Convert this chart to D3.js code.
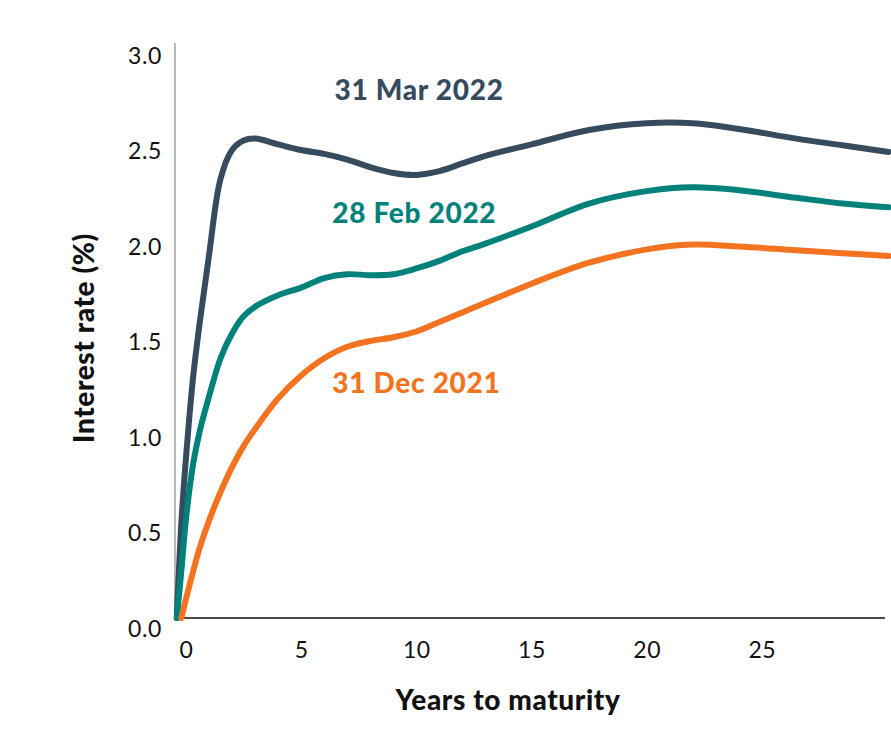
<!DOCTYPE html>
<html>
<head>
<meta charset="utf-8">
<script src="https://cdn.jsdelivr.net/npm/d3@7"></script>
<style>
  body { margin: 0; background: #fff; }
  svg { display: block; font-family: Lato, 'Open Sans', sans-serif; }
</style>
</head>
<body>
<div id="chart"></div>
<script>
// years to maturity
let maturities = [-0.4, -0.2, 0, 0.3, 0.6, 1, 1.5, 2, 2.5, 3, 4, 5, 6, 7, 8, 9, 10,
  11, 12, 13, 15, 17.5, 20, 22, 24, 26.5, 28.5, 30.5]

let mar2022 = [0.0, 0.5, 0.84, 1.25, 1.55, 1.9, 2.3, 2.45, 2.5, 2.51, 2.48, 2.45, 2.43,
  2.4, 2.36, 2.33, 2.32, 2.34, 2.38, 2.42, 2.48, 2.555, 2.59, 2.59, 2.56, 2.51, 2.475, 2.44]

let feb2022 = [0.0, 0.25, 0.52, 0.8, 0.98, 1.16, 1.36, 1.49, 1.58, 1.63, 1.69, 1.73, 1.78,
  1.8, 1.795, 1.8, 1.83, 1.87, 1.92, 1.96, 2.05, 2.17, 2.235, 2.255, 2.24, 2.2, 2.17, 2.15]

let dec2021 = [null, 0.0, 0.1, 0.24, 0.37, 0.51, 0.66, 0.79, 0.9, 0.99, 1.15, 1.27, 1.36,
  1.42, 1.45, 1.47, 1.5, 1.55, 1.6, 1.65, 1.75, 1.86, 1.93, 1.955, 1.945, 1.925, 1.91, 1.895]

let seriesNames = ['31 Mar 2022', '28 Feb 2022', '31 Dec 2021']
let seriesColors = ['#364b5d', '#00827a', '#f37321']

let xTicks = [0, 5, 10, 15, 20, 25]
let yTicks = [0, 0.5, 1, 1.5, 2, 2.5, 3]

// label anchor points (data units)
let labelX = [6.45, 6.35, 6.35]
let labelY = [2.712, 2.068, 1.178]

let width = 891
let height = 744

let svg = d3
  .select('#chart')
  .append('svg')
  .attr('width', width)
  .attr('height', height)

let xPositionScale = d3.scaleLinear().domain([0, 30]).range([186, 877])
let yPositionScale = d3.scaleLinear().domain([0, 3]).range([618, 45])

let xStart = -0.48
let xEnd = 30.35

// axes
let yAxis = d3
  .axisLeft(yPositionScale)
  .tickValues(yTicks)
  .tickFormat(d3.format('.1f'))
  .tickSize(0)
  .tickPadding(13)

svg
  .append('g')
  .attr('class', 'y-axis')
  .attr('transform', `translate(${xPositionScale(xStart)},0)`)
  .call(yAxis)
  .call(g => g.select('.domain').attr('stroke', '#8a8a8a').attr('stroke-width', 1.2)
    .attr('d', `M0,${yPositionScale(3) - 2}V${yPositionScale(0)}`))
  .selectAll('text')
  .attr('dy', 18)
  .attr('font-family', 'Lato, sans-serif')
  .attr('font-size', 23)
  .attr('letter-spacing', 0.6)
  .attr('fill', '#111')

let xAxis = d3
  .axisBottom(xPositionScale)
  .tickValues(xTicks)
  .tickSize(0)

svg
  .append('g')
  .attr('class', 'x-axis')
  .attr('transform', `translate(0,${yPositionScale(0)})`)
  .call(xAxis)
  .call(g => g.select('.domain').remove())
  .selectAll('text')
  .attr('y', 40)
  .attr('dy', 0)
  .attr('font-family', 'Lato, sans-serif')
  .attr('font-size', 23)
  .attr('letter-spacing', 0.6)
  .attr('fill', '#111')

svg
  .append('line')
  .attr('x1', xPositionScale(xStart))
  .attr('x2', xPositionScale(xEnd))
  .attr('y1', yPositionScale(0))
  .attr('y2', yPositionScale(0))
  .attr('stroke', '#111')
  .attr('stroke-width', 1.3)

// axis titles
svg
  .append('text')
  .attr('x', 508)
  .attr('y', 710)
  .attr('text-anchor', 'middle')
  .attr('font-size', 28)
  .attr('font-weight', 900)
  .attr('letter-spacing', 0.6)
  .attr('fill', '#111')
  .text('Years to maturity')

svg
  .append('text')
  .attr('transform', 'translate(94,338) rotate(-90)')
  .attr('text-anchor', 'middle')
  .attr('font-size', 28)
  .attr('font-weight', 900)
  .attr('letter-spacing', 0.6)
  .attr('fill', '#111')
  .text('Interest rate (%)')

// lines
let line = d3
  .line()
  .defined(d => d[1] !== null)
  .x(d => xPositionScale(d[0]))
  .y(d => yPositionScale(d[1]))
  .curve(d3.curveCatmullRom.alpha(0.5))

let allSeries = [mar2022, feb2022, dec2021]

svg
  .append('g')
  .selectAll('.rate-line')
  .data(allSeries)
  .enter()
  .append('path')
  .attr('class', 'rate-line')
  .attr('d', values => line(maturities.map((m, i) => [m, values[i]])))
  .attr('fill', 'none')
  .attr('stroke', (d, i) => seriesColors[i])
  .attr('stroke-width', 6)
  .attr('stroke-linecap', 'round')
  .attr('stroke-linejoin', 'round')

svg
  .append('g')
  .selectAll('.series-label')
  .data(seriesNames)
  .enter()
  .append('text')
  .attr('class', 'series-label')
  .attr('x', (d, i) => xPositionScale(labelX[i]))
  .attr('y', (d, i) => yPositionScale(labelY[i]))
  .attr('font-size', 28)
  .attr('font-weight', 900)
  .attr('letter-spacing', 0.7)
  .attr('fill', (d, i) => seriesColors[i])
  .text(d => d)
</script>
</body>
</html>
